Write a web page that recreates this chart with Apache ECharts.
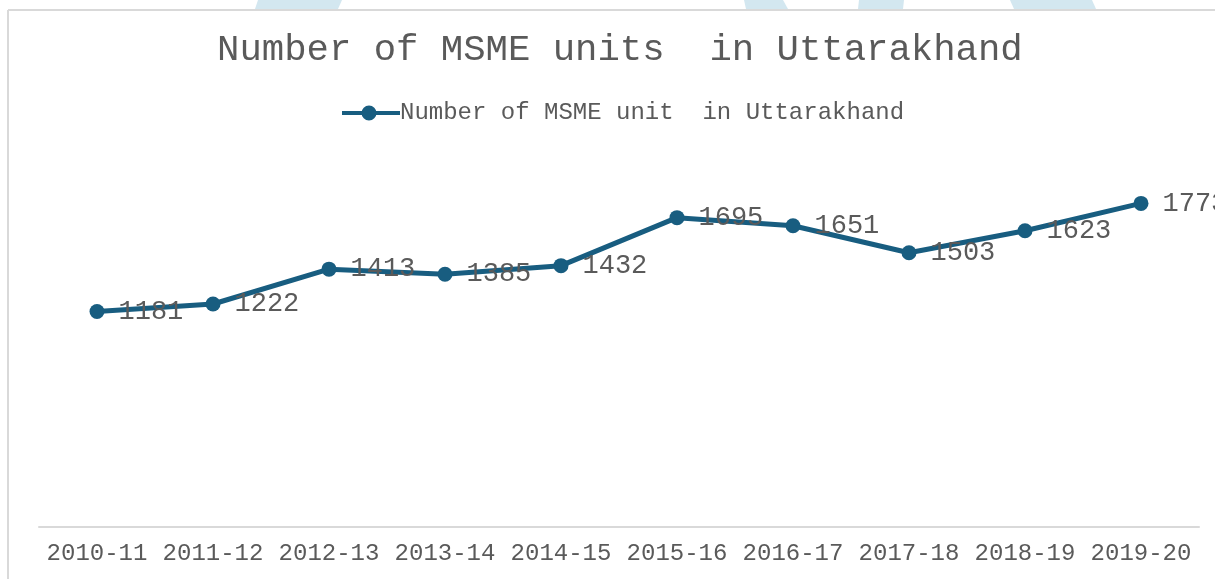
<!DOCTYPE html>
<html>
<head>
<meta charset="utf-8">
<script src="https://cdn.jsdelivr.net/npm/echarts@6/dist/echarts.min.js"></script>
<style>
  html, body { margin: 0; padding: 0; background: #fff; }
  #chart { width: 1215px; height: 579px; }
</style>
</head>
<body>
<div id="chart"></div>
<script>
// fiscal years on the x axis
const years = ['2010-11', '2011-12', '2012-13', '2013-14', '2014-15',
  '2015-16', '2016-17', '2017-18', '2018-19', '2019-20'];
// number of MSME units per year
const units = [1181, 1222, 1413, 1385, 1432, 1695, 1651, 1503, 1623, 1773];

const seriesName = 'Number of MSME unit  in Uttarakhand';
const lineColor = '#185d80';
const ink = '#5a5a5a';
const mono = '"Liberation Mono", "DejaVu Sans Mono", monospace';

// faint blue shapes peeking above the frame (page decoration)
const stripe = (pts) => ({
  type: 'polygon', silent: true, z: -1,
  shape: { points: pts },
  style: { fill: '#d3e7f0' },
});

// legend key: thick line with a dot on it (both drawn clockwise so they union)
const legendIcon = 'path://M0,5.5 H58 V9.5 H0 Z M19.5,7.5 A7.5,7.5 0 1,1 34.5,7.5 A7.5,7.5 0 1,1 19.5,7.5 Z';

const chart = echarts.init(document.getElementById('chart'));
chart.setOption({
  backgroundColor: '#fff',
  animation: false,
  textStyle: { fontFamily: mono },
  graphic: [
    stripe([[258, 0], [342, 0], [338, 9], [255, 9]]),
    stripe([[744, 0], [783, 0], [788, 9], [746, 9]]),
    stripe([[859, 0], [904, 0], [903, 9], [858, 9]]),
    stripe([[1010, 0], [1092, 0], [1096, 9], [1014, 9]]),
    // chart frame: top and left edges
    { type: 'line', silent: true, shape: { x1: 8, y1: 10, x2: 1215, y2: 10 }, style: { stroke: '#d9d9d9', lineWidth: 2 } },
    { type: 'line', silent: true, shape: { x1: 8, y1: 10, x2: 8, y2: 579 }, style: { stroke: '#d9d9d9', lineWidth: 2 } },
  ],
  title: {
    text: 'Number of MSME units  in Uttarakhand',
    left: 212,
    top: 27,
    textStyle: { fontFamily: mono, fontSize: 37.3, fontWeight: 'normal', color: ink },
  },
  legend: {
    left: 337,
    top: 96,
    itemWidth: 58,
    itemHeight: 15,
    itemGap: 10,
    data: [{ name: seriesName, icon: legendIcon }],
    itemStyle: { color: lineColor },
    textStyle: { fontFamily: mono, fontSize: 24, color: ink, padding: [0, 0, 0, -5] },
  },
  grid: { left: 39, right: 16, top: 162, bottom: 52, containLabel: false },
  xAxis: {
    type: 'category',
    data: years,
    boundaryGap: true,
    axisLine: { lineStyle: { color: '#d9d9d9', width: 2 } },
    axisTick: { show: false },
    axisLabel: { fontFamily: mono, fontSize: 24, color: ink, margin: 15, interval: 0 },
  },
  yAxis: {
    type: 'value',
    min: 0,
    max: 2000,
    show: false,
    splitLine: { show: false },
  },
  series: [{
    name: seriesName,
    type: 'line',
    data: units,
    symbol: 'circle',
    symbolSize: 15,
    itemStyle: { color: lineColor },
    lineStyle: { color: lineColor, width: 5 },
    label: {
      show: true,
      position: 'right',
      distance: 14,
      fontFamily: mono,
      fontSize: 27,
      color: ink,
    },
  }],
});
</script>
</body>
</html>
